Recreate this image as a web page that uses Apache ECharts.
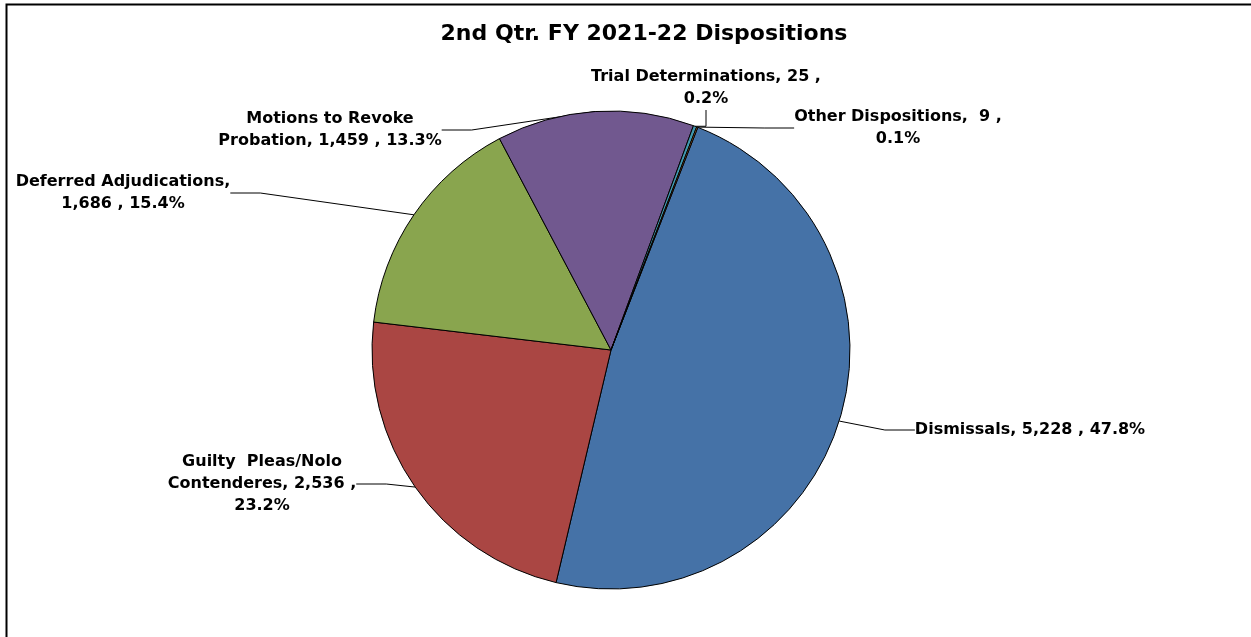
<!DOCTYPE html>
<html>
<head>
<meta charset="utf-8">
<script src="https://cdn.jsdelivr.net/npm/echarts@6/dist/echarts.min.js"></script>
<style>
  html, body { margin: 0; padding: 0; background: #fff; }
  #main { width: 1251px; height: 637px; }
</style>
</head>
<body>
<div id="main"></div>
<script>
// data
var names = ['Dismissals', 'Guilty  Pleas/Nolo\nContenderes', 'Deferred Adjudications',
    'Motions to Revoke\nProbation', 'Trial Determinations', 'Other Dispositions'];
var values = [5228, 2536, 1686, 1459, 25, 9];
var colors = ['#4572A7', '#AA4643', '#89A54E', '#71588F', '#4198AF', '#DB843D'];

// how each label text is broken (after name / before percent)
var sepName = [' ', ' ', '\n', ' ', ' ', '  '];
var sepPct = [' ', '\n', ' ', ' ', '\n', '\n'];
// label centres
var labelPos = [[1030, 430], [262, 484], [123, 193], [330, 130], [706, 88], [898, 128]];

var dom = document.getElementById('main');
var myChart = echarts.init(dom);

var pieData = values.map(function (v, i) {
    return { value: v, name: names[i], itemStyle: { color: colors[i] } };
});

function fmt(n) {
    return n.toString().replace(/\B(?=(\d{3})+(?!\d))/g, ',');
}

option = {
    animation: false,
    backgroundColor: '#fff',
    title: {
        text: '2nd Qtr. FY 2021-22 Dispositions',
        left: 639,
        top: 18,
        textAlign: 'center',
        textStyle: { fontFamily: 'DejaVu Sans', fontWeight: 'bold', fontSize: 22, color: '#000' }
    },
    graphic: [{
        type: 'rect',
        shape: { x: 6.5, y: 4.5, width: 1400, height: 800 },
        style: { fill: 'none', stroke: '#000', lineWidth: 2 },
        silent: true
    }],
    series: [{
        type: 'pie',
        center: [611, 350],
        radius: [0, 239],
        startAngle: 68.7,
        clockwise: true,
        avoidLabelOverlap: false,
        minAngle: 0,
        emphasis: { disabled: true },
        itemStyle: { borderColor: '#000', borderWidth: 1 },
        label: {
            show: true,
            position: 'outside',
            color: '#000',
            fontFamily: 'DejaVu Sans',
            fontWeight: 'bold',
            fontSize: 16,
            lineHeight: 22,
            align: 'center',
            formatter: function (p) {
                var i = p.dataIndex;
                return p.name + ',' + sepName[i] + fmt(p.value) + ' ,' + sepPct[i] + p.percent.toFixed(1) + '%';
            }
        },
        labelLine: {
            show: true,
            lineStyle: { color: '#000', width: 1 }
        },
        labelLayout: function (params) {
            var pos = labelPos[params.dataIndex];
            return { x: pos[0], y: pos[1], align: 'center', verticalAlign: 'middle' };
        },
        data: pieData
    }]
};

if (option && typeof option === 'object') {
    myChart.setOption(option, true);
}
</script>
</body>
</html>
